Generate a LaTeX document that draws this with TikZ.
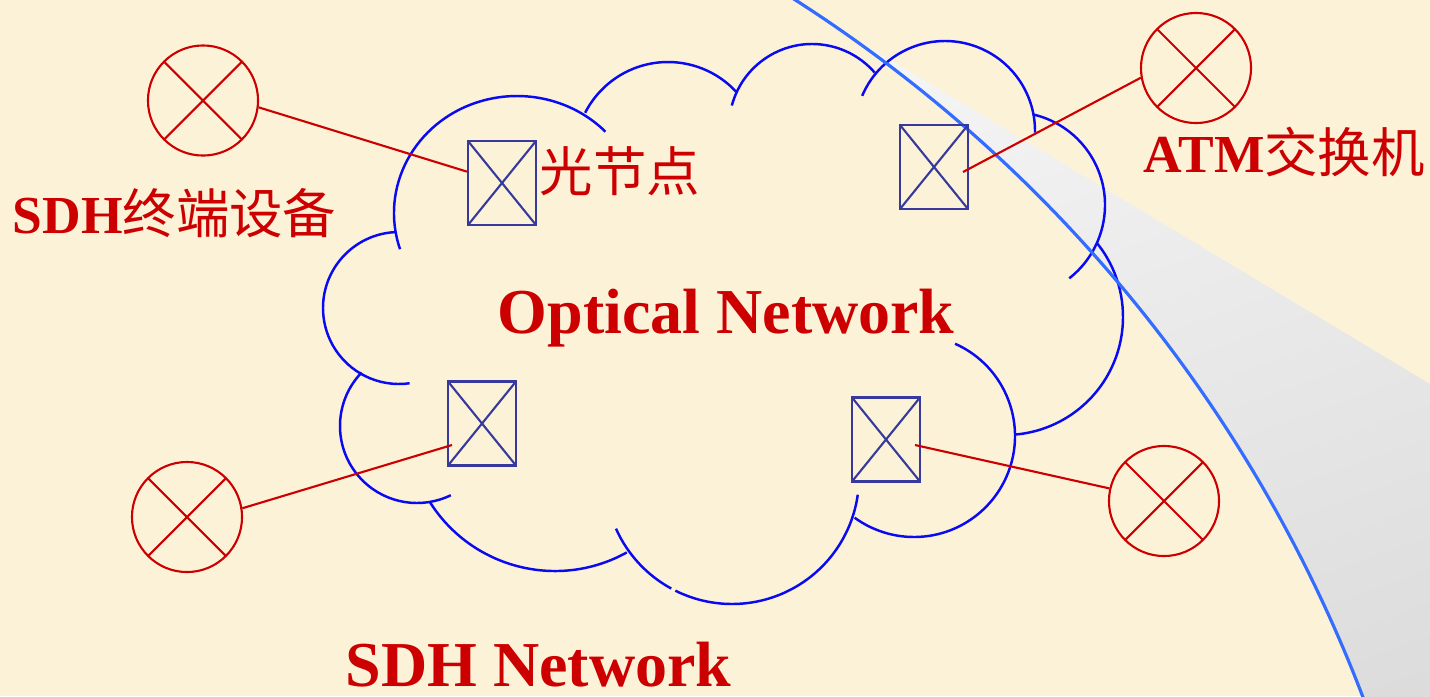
\documentclass[tikz,border=0pt]{standalone}
\usepackage{fontspec}
\setmainfont{Liberation Serif}
\newfontfamily\cjk{Noto Sans CJK SC}
\usepackage{tikz}
\usetikzlibrary{calc,shadings}
\definecolor{parchment}{RGB}{252,242,216}
\definecolor{cloudblue}{RGB}{10,10,240}
\definecolor{curlblue}{RGB}{51,108,255}
\definecolor{boxnavy}{RGB}{55,58,156}
\definecolor{sdhred}{RGB}{204,0,0}
\tikzstyle{cloudline} = [line width=0.7pt, color=cloudblue]
\tikzstyle{curlline} = [line width=0.9pt, color=curlblue]
\tikzstyle{optnode} = [rectangle, draw=boxnavy, line width=0.6pt, minimum width=0.68cm, minimum height=0.84cm, inner sep=0pt,
  path picture={\draw[boxnavy, line width=0.6pt] (path picture bounding box.north west) -- (path picture bounding box.south east)
    (path picture bounding box.north east) -- (path picture bounding box.south west);}]
\tikzstyle{termnode} = [circle, draw=sdhred, line width=0.6pt, minimum size=1.1cm, inner sep=0pt,
  path picture={\draw[sdhred, line width=0.6pt] (path picture bounding box.center) ++(45:0.6cm) -- ++(225:1.2cm)
    (path picture bounding box.center) ++(135:0.6cm) -- ++(-45:1.2cm);}]
\tikzstyle{link} = [line width=0.6pt, color=sdhred]
\tikzstyle{bigtext} = [text=sdhred, inner sep=0pt, anchor=base west, font=\fontsize{18.2}{22}\selectfont\bfseries]
\tikzstyle{smalltext} = [text=sdhred, inner sep=0pt, anchor=base west, font=\fontsize{15.2}{18}\selectfont]

\begin{document}
\begin{tikzpicture}[x=0.01cm, y=-0.01cm]
% page
\useasboundingbox (0,0) rectangle (1430,696);
\fill[parchment] (0,0) rectangle (1430,696);

% turned-over page corner
\coordinate (curlc) at (21.6,1209.7);
\begin{scope}
\clip (0,0) rectangle (1430,696);
\shade[upper left=white, upper right=black!6, lower left=black!14, lower right=black!20]
  (curlc) ++(-55.3:1436) coordinate (curltop) arc[start angle=-55.3, end angle=-20.5, radius=1436]
  -- (1440,700) -- (1440,390) -- (curltop);
\end{scope}

% cloud outline, one lobe per arc
\foreach \cx/\cy/\rx/\ry/\a/\b in {517/213/123/117/162/316, 668/155/93/93/207/317, 812/127/83/83/195/319,
    945/131/90/90/203/361, 1012/205/93/93/283/412, 1005/317/118/118/321/445, 914/436/101/101/294/486,
    732/477/127/127/156/118.6, 732/477/127/127/116.5/8, 555/423/148/148/148/61, 417/426/77/77/224/64,
    399/308/76/76/267/82}
  \draw[cloudline] (\cx,\cy) ++(\a:{\rx} and {\ry}) arc[start angle=\a, end angle=\b, x radius=\rx, y radius=\ry];

% edge of the page corner
\begin{scope}
\clip (0,0) rectangle (1430,696);
\draw[curlline] (curlc) ++(-58:1436) arc[start angle=-58, end angle=-20.5, radius=1436];
\end{scope}

% optical nodes
\node[optnode] (on1) at (502,183) {};
\node[optnode] (on2) at (934,167) {};
\node[optnode] (on3) at (482,423.5) {};
\node[optnode] (on4) at (886,439.5) {};

% SDH terminals and ATM switch
\node[termnode] (sdht) at (203,100.5) {};
\node[termnode] (atm) at (1196,68) {};
\node[termnode] (term3) at (187,517) {};
\node[termnode] (term4) at (1164,501) {};

% access links
\draw[link] (sdht.-7) -- (on1.162.6);
\draw[link] (atm.190) -- ([shift={(29,5)}]on2.center);
\draw[link] (term3.9) -- ([shift={(-30,21.5)}]on3.center);
\draw[link] (term4.167) -- ([shift={(29,5.5)}]on4.center);

% labels
\node[smalltext] (sdhlbl) at (12,233) {\textbf{SDH}{\cjk 终端设备}};
\node[smalltext] (atmlbl) at (1143,172) {\textbf{ATM}{\cjk 交换机}};
\node[smalltext, anchor=center] (onlbl) at (620,171) {\cjk 光节点};
\node[bigtext] (optlbl) at (497,333) {Optical Network};
\node[bigtext] (netlbl) at (345,686) {SDH Network};
\end{tikzpicture}
\end{document}
